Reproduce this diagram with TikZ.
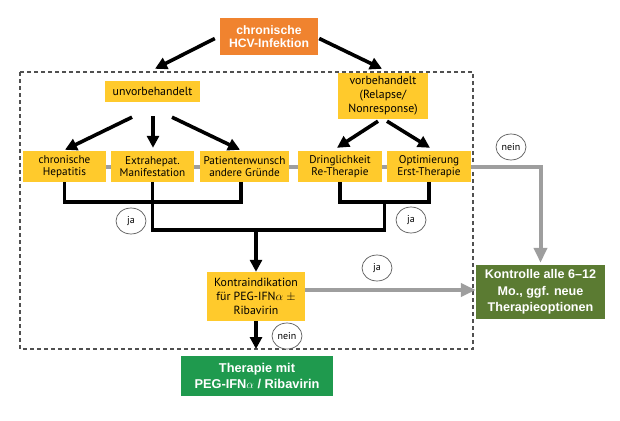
\documentclass[tikz,border=0pt]{standalone}
\usepackage{fontspec}
\setmainfont{PT Sans}
\newfontfamily\boldsans{Liberation Sans}
\usetikzlibrary{arrows.meta,calc,shapes.geometric}
\pgfdeclarelayer{bg}
\pgfsetlayers{bg,main}
\definecolor{hcvorange}{HTML}{F0832F}
\definecolor{hcvyellow}{HTML}{FFCA2C}
\definecolor{hcvolive}{HTML}{5B7B32}
\definecolor{hcvgreen}{HTML}{1F9A4E}
\definecolor{hcvgray}{HTML}{9E9E9E}
\definecolor{framegray}{HTML}{505050}
\begin{document}
\begin{tikzpicture}[x=1pt,y=-1pt,
  ybox/.style={fill=hcvyellow, inner sep=0pt, align=center, text=black,
    font=\fontsize{11.8}{14}\selectfont},
  rowbox/.style={ybox, minimum height=31pt, font=\fontsize{11.2}{12.5}\selectfont},
  wbox/.style={inner sep=0pt, align=center, text=white},
  circ/.style={ellipse, draw=black!65, line width=0.7pt, fill=white,
    minimum width=30pt, minimum height=26pt, inner sep=0pt,
    font=\fontsize{10}{11}\selectfont},
  bk/.style={line width=3.6pt, black, line join=miter},
  bka/.style={bk, -{Triangle[length=12pt,width=12pt]}},
  gr/.style={line width=4pt, hcvgray},
  gra/.style={gr, line join=miter, -{Triangle[length=15pt,width=13pt]}},
  framebox/.style={draw=framegray, line width=1.1pt, dash pattern=on 4pt off 3pt}
]
\useasboundingbox (0,0) rectangle (620,420);

% frame
\draw[framebox] (20,72) rectangle (473,349);

% nodes
\node[wbox, fill=hcvorange, minimum width=98pt, minimum height=37pt,
  font=\boldsans\bfseries\fontsize{12.2}{13.5}\selectfont] (hcv) at (269,36.5) {chronische\\HCV-Infektion};
\node[ybox, minimum width=95pt, minimum height=21pt] (unv) at (152.5,91.5) {unvorbehandelt};
\node[ybox, minimum width=90pt, minimum height=46pt] (vor) at (383,96) {vorbehandelt\\(Relapse/\\Nonresponse)};

\node[rowbox, minimum width=83pt] (chr) at (64.5,166.5) {chronische\\Hepatitis};
\node[rowbox, minimum width=83pt] (ext) at (152.5,166.5) {Extrahepat.\\Manifestation};
\node[rowbox, minimum width=89pt] (pat) at (244.5,166.5) {Patientenwunsch\\andere Gründe};
\node[rowbox, minimum width=84pt] (dri) at (340,166.5) {Dringlichkeit\\Re-Therapie};
\node[rowbox, minimum width=84pt] (opt) at (429,166.5) {Optimierung\\Erst-Therapie};

\node[ybox, minimum width=98pt, minimum height=49pt] (kontra) at (256,296.5) {Kontraindikation\\für PEG-IFN$\alpha$ $\pm$\\Ribavirin};

\node[wbox, fill=hcvolive, minimum width=129pt, minimum height=54pt,
  font=\boldsans\bfseries\fontsize{12.6}{16.5}\selectfont] (kon) at (540.5,292) {Kontrolle alle 6–12\\Mo., ggf. neue\\Therapieoptionen};
\node[wbox, fill=hcvgreen, minimum width=152pt, minimum height=40pt,
  font=\boldsans\bfseries\fontsize{12.8}{16}\selectfont] (ther) at (257,376) {Therapie mit\\PEG-IFN$\alpha$ / Ribavirin};

% helper coordinates
\coordinate (b1) at (0,202);
\coordinate (b2) at (0,230);
\coordinate (yrow) at (0,290);
\coordinate (fb) at (0,349);
\coordinate (mid) at ($(dri.south)!0.5!(opt.south)$);

% gray connectors
\begin{pgfonlayer}{bg}
\draw[gr] (chr.center) -- (opt.center);
\end{pgfonlayer}
\draw[gra, shorten >=2pt] (opt.east) -| (kon.north);
\draw[gra] (kontra.east |- yrow) -- (kon.west |- yrow);

% black arrows top
\draw[bka] ($(hcv.west)+(-5,2)$) -- ($(unv.north)+(2.5,-12)$);
\draw[bka] ($(hcv.east)+(1,2)$) -- ($(vor.north)+(-1,-4)$);
\draw[bka] ($(unv.south)+(-20.5,15)$) -- ($(chr.north)+(0.5,-1)$);
\draw[bka] ($(unv.south)+(0.5,14)$) -- ($(ext.north)+(0.5,-3)$);
\draw[bka] ($(unv.south)+(19.5,15)$) -- ($(pat.north)+(-4.5,-1)$);
\draw[bka] ($(vor.south)+(-5,2)$) -- ($(dri.north)+(-3,-3)$);
\draw[bka] ($(vor.south)+(4,2)$) -- ($(opt.north)+(1,-3)$);

% brackets
\draw[bk] (chr.south) -- (chr.south |- b1) -- ([xshift=-3.5pt]pat.south |- b1) -- ([xshift=-3.5pt]pat.south);
\draw[bk] (dri.south) -- (dri.south |- b1) -- (opt.south |- b1) -- (opt.south);
\draw[bk] (ext.south) -- (ext.south |- b2) -- (mid |- b2) -- (mid |- b1);
\draw[bka] (kontra.north |- b2) -- (kontra.north);
\draw[bka] (kontra.south) -- (kontra.south |- fb);

% labels
\node[circ] (ja1) at (131,221) {ja};
\node[circ] (ja2) at (411,220) {ja};
\node[circ] (nein1) at (511,147) {nein};
\node[circ] (ja3) at (377,268) {ja};
\node[circ] (nein2) at (287,336) {nein};
\end{tikzpicture}
\end{document}
